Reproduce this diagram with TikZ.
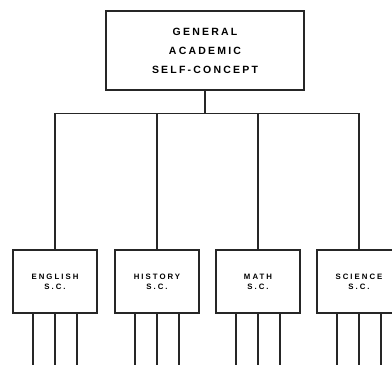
\documentclass[tikz,border=0pt]{standalone}
\usepackage{fontspec}
\setmainfont{Liberation Sans}
\newfontfamily\topfont[LetterSpace=21]{Liberation Sans}
\newfontfamily\subfont[LetterSpace=26]{Liberation Sans}
\begin{document}
\begin{tikzpicture}[x=1pt,y=-1pt,
  line width=1.1pt, draw=black!85,
  topbox/.style={draw, rectangle, minimum width=198pt, minimum height=79pt,
    inner sep=0pt, align=center, font=\topfont\bfseries\fontsize{10.5}{19}\selectfont},
  subbox/.style={draw, rectangle, minimum width=84pt, minimum height=63pt,
    inner sep=0pt, align=center, font=\subfont\bfseries\fontsize{7.8}{10}\selectfont},
  leg/.style={line width=1.1pt}]
\useasboundingbox (0,0) rectangle (392,365);

% general self-concept
\node[topbox] (gen) at (205,50.5) {GENERAL\\ACADEMIC\\SELF-CONCEPT};
\draw (gen.south) -- ++(0,23) coordinate (hub);

% subject-specific self-concepts
\node[subbox] (eng) at (55,281.5)  {ENGLISH\\S.C.};
\node[subbox] (his) at (157,281.5) {HISTORY\\S.C.};
\node[subbox] (mat) at (258,281.5) {MATH\\S.C.};
\node[subbox] (sci) at (359,281.5) {SCIENCE\\S.C.};

\foreach \b in {eng,his,mat,sci}{
  \draw (\b.north) |- (hub);
  \foreach \dx in {-22,0,22}{
    \draw[leg] ([xshift=\dx pt]\b.south) -- ++(0,60);
  }
}
\end{tikzpicture}
\end{document}
